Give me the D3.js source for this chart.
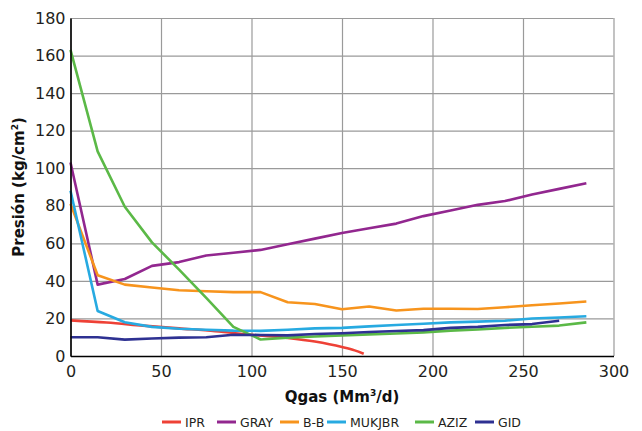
<!DOCTYPE html>
<html>
<head>
<meta charset="utf-8">
<script src="https://cdn.jsdelivr.net/npm/d3@7"></script>
<style>
  body { margin: 0; background: #fff; }
  svg { font-family: "DejaVu Sans", sans-serif; }
</style>
</head>
<body>
<div id="chart"></div>
<script>
// Series values: [Qgas, Presion]
const ipr = [[0, 19], [20, 17.8], [40, 16.2], [60, 14.7], [80, 13.2], [100, 11.3], [120, 9.6], [135, 7.7], [150, 4.8], [157, 3], [162, 1.2]];
const gray = [[0, 103], [15, 38], [30, 41], [45, 48], [60, 50], [75, 53.5], [90, 55], [105, 56.5], [120, 59.5], [135, 62.5], [150, 65.5], [165, 68], [180, 70.5], [195, 74.5], [210, 77.5], [225, 80.5], [240, 82.5], [255, 86], [270, 89], [285, 92]];
const bb = [[0, 81], [15, 43], [30, 38], [45, 36.5], [60, 35], [75, 34.5], [90, 34], [105, 34], [120, 28.6], [135, 27.7], [150, 24.9], [165, 26.4], [180, 24.2], [195, 25.2], [210, 25.2], [225, 25], [240, 26], [255, 27], [270, 28], [285, 29]];
const mukjbr = [[0, 88], [15, 24], [30, 18], [45, 15.5], [60, 14.5], [75, 14], [90, 13.5], [105, 13.4], [120, 14], [135, 14.7], [150, 15], [165, 15.8], [180, 16.5], [195, 17.2], [210, 17.9], [225, 18.3], [240, 18.8], [255, 20], [270, 20.5], [285, 21.2]];
const aziz = [[0, 163], [15, 109], [30, 79.5], [45, 60.5], [60, 46], [75, 31], [90, 15.5], [105, 8.8], [120, 9.8], [135, 10.4], [150, 11], [165, 11.5], [180, 12], [195, 12.6], [210, 13.5], [225, 14.1], [240, 15], [255, 15.6], [270, 16.2], [285, 17.9]];
const gid = [[0, 10], [15, 10], [30, 8.7], [45, 9.3], [60, 9.8], [75, 10], [90, 11.3], [105, 11.2], [120, 11], [135, 11.7], [150, 12.1], [165, 12.8], [180, 13.3], [195, 13.8], [210, 15], [225, 15.5], [240, 16.5], [255, 17], [270, 18.8]];

const seriesNames = ["IPR", "GRAY", "B-B", "MUKJBR", "AZIZ", "GID"];
const seriesData = [ipr, gray, bb, mukjbr, aziz, gid];
const seriesColors = ["#ee4136", "#92278f", "#f7941d", "#27aae1", "#5bb947", "#2e3192"];

const xTicks = [0, 50, 100, 150, 200, 250, 300];
const yTicks = [0, 20, 40, 60, 80, 100, 120, 140, 160, 180];

// Chart dimensions
const width = 642, height = 431;
const margin = { top: 18, right: 28.5, bottom: 75, left: 70.5 };
const innerW = width - margin.left - margin.right;
const innerH = height - margin.top - margin.bottom;

const svg = d3.select("#chart").append("svg")
    .attr("width", width)
    .attr("height", height);

const g = svg.append("g")
    .attr("transform", `translate(${margin.left},${margin.top})`);

const x = d3.scaleLinear().domain([0, 300]).range([0, innerW]);
const y = d3.scaleLinear().domain([0, 180]).range([innerH, 0]);

// Grid lines
g.append("g")
    .call(d3.axisBottom(x).tickValues(xTicks).tickSize(-innerH).tickFormat(""))
    .attr("transform", `translate(0,${innerH})`)
    .call(a => a.select(".domain").remove())
    .selectAll("line").attr("stroke", "#9a9a9a").attr("stroke-width", 1.2);

g.append("g")
    .call(d3.axisLeft(y).tickValues(yTicks).tickSize(-innerW).tickFormat(""))
    .call(a => a.select(".domain").remove())
    .selectAll("line").attr("stroke", "#9a9a9a").attr("stroke-width", 1.2);

// Lines
const line = d3.line().x(d => x(d[0])).y(d => y(d[1]));
const curved = d3.line().x(d => x(d[0])).y(d => y(d[1])).curve(d3.curveMonotoneX);

g.selectAll(".series")
    .data(seriesData)
    .enter().append("path")
    .attr("class", "series")
    .attr("fill", "none")
    .attr("stroke", (d, i) => seriesColors[i])
    .attr("stroke-width", 2.6)
    .attr("stroke-linejoin", "round")
    .attr("d", (d, i) => i === 0 ? curved(d) : line(d));

// Axes (black lines on left and bottom)
const xAxis = g.append("g")
    .attr("transform", `translate(0,${innerH})`)
    .call(d3.axisBottom(x).tickValues(xTicks).tickSize(0).tickPadding(10));
xAxis.select(".domain").attr("stroke", "#000").attr("stroke-width", 1.6);
xAxis.selectAll("text").attr("font-size", 16).attr("fill", "#231f20")
    .attr("font-family", "DejaVu Sans");

const yAxis = g.append("g")
    .call(d3.axisLeft(y).tickValues(yTicks).tickSize(0).tickPadding(5));
yAxis.select(".domain").attr("stroke", "#000").attr("stroke-width", 1.6);
yAxis.selectAll("text").attr("font-size", 16).attr("fill", "#231f20")
    .attr("font-family", "DejaVu Sans");

// Axis titles with small superscripts
const xTitle = svg.append("text")
    .attr("x", margin.left + innerW / 2)
    .attr("y", 402)
    .attr("text-anchor", "middle")
    .attr("font-size", 15)
    .attr("font-weight", "bold")
    .attr("fill", "#111");
xTitle.append("tspan").text("Qgas (Mm");
xTitle.append("tspan").attr("font-size", 9).attr("dy", -6).text("3");
xTitle.append("tspan").attr("dy", 6).text("/d)");

const yTitle = svg.append("text")
    .attr("transform", `translate(24,${margin.top + innerH / 2}) rotate(-90)`)
    .attr("text-anchor", "middle")
    .attr("font-size", 15)
    .attr("font-weight", "bold")
    .attr("fill", "#111");
yTitle.append("tspan").text("Presión (kg/cm");
yTitle.append("tspan").attr("font-size", 9).attr("dy", -6).text("2");
yTitle.append("tspan").attr("dy", 6).text(")");

// Legend
const legendX = [162, 217, 280, 327, 415, 475];
const legend = svg.selectAll(".key")
    .data(seriesNames)
    .enter().append("g")
    .attr("class", "key")
    .attr("transform", (d, i) => `translate(${legendX[i]},422)`);

legend.append("line")
    .attr("x1", 0).attr("x2", 19)
    .attr("stroke", (d, i) => seriesColors[i])
    .attr("stroke-width", 3);

legend.append("text")
    .attr("x", 23)
    .attr("dy", "0.36em")
    .attr("font-size", 12.5)
    .attr("fill", "#231f20")
    .text(d => d);
</script>
</body>
</html>
